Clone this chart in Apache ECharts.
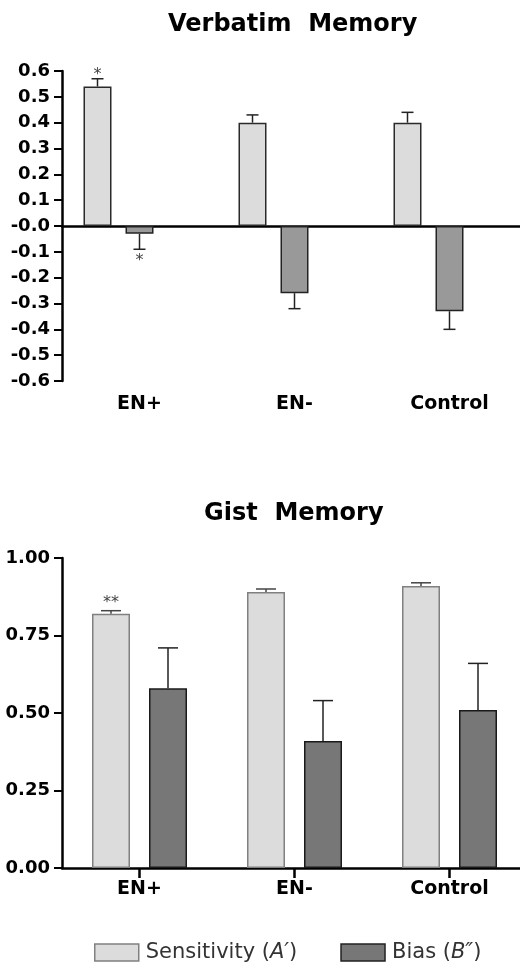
<!DOCTYPE html>
<html>
<head>
<meta charset="utf-8">
<script src="https://cdn.jsdelivr.net/npm/echarts@6/dist/echarts.min.js"></script>
<style>
  html, body { margin: 0; padding: 0; background: #fff; }
  #chart { width: 520px; height: 972px; }
</style>
</head>
<body>
<div id="chart"></div>
<script>
const categories = ['EN+', 'EN-', 'Control'];

// Verbatim memory (top panel)
const verbSens = [0.54, 0.40, 0.40];
const verbSensErr = [0.03, 0.03, 0.04];
const verbBias = [-0.03, -0.26, -0.33];
const verbBiasErr = [0.06, 0.06, 0.07];
const verbSensStars = ['*', '', ''];
const verbBiasStars = ['*', '', ''];

// Gist memory (bottom panel)
const gistSens = [0.82, 0.89, 0.91];
const gistSensErr = [0.01, 0.01, 0.01];
const gistBias = [0.58, 0.41, 0.51];
const gistBiasErr = [0.13, 0.13, 0.15];
const gistSensStars = ['**', '', ''];

const titles = ['Verbatim  Memory', 'Gist  Memory'];
const legendNames = ['Sensitivity', 'Bias'];

const FONT = 'DejaVu Sans';

// error bar + significance star, drawn from the data through the axes
function errorBars(vals, errs, stars, offset, capHalf, starDy, color) {
    return function (params, api) {
        const i = params.dataIndex;
        const v = vals[i];
        const dir = v < 0 ? -1 : 1;
        const end = v + dir * errs[i];
        const p0 = api.coord([i, v]);
        const p1 = api.coord([i, end]);
        const x = p0[0] + offset;
        const children = [
            { type: 'line', shape: { x1: x, y1: p0[1], x2: x, y2: p1[1] },
              style: { stroke: color, lineWidth: 1.5 } },
            { type: 'line', shape: { x1: x - capHalf, y1: p1[1], x2: x + capHalf, y2: p1[1] },
              style: { stroke: color, lineWidth: 1.5 } }
        ];
        if (stars && stars[i]) {
            children.push({
                type: 'text',
                style: {
                    text: stars[i], x: x, y: p1[1] + starDy * dir,
                    fill: '#444', font: '16px ' + FONT,
                    align: 'center', verticalAlign: 'middle'
                }
            });
        }
        return { type: 'group', children: children };
    };
}

const chart = echarts.init(document.getElementById('chart'));

const yLabelStyle = { color: '#000', fontFamily: FONT, fontWeight: 'bold', fontSize: 18, margin: 12 };
const xLabelStyle = { color: '#000', fontFamily: FONT, fontWeight: 'bold', fontSize: 19 };

chart.setOption({
    backgroundColor: '#fff',
    animation: false,
    title: [
        { text: titles[0], left: 163, top: 8,
          textStyle: { fontFamily: FONT, fontWeight: 'bold', fontSize: 24, color: '#000' } },
        { text: titles[1], left: 199, top: 497,
          textStyle: { fontFamily: FONT, fontWeight: 'bold', fontSize: 24, color: '#000' } }
    ],
    legend: {
        left: 89,
        top: 937,
        itemWidth: 44,
        itemHeight: 17,
        itemGap: 43,
        icon: 'rect',
        data: [
            { name: legendNames[0], itemStyle: { color: '#dcdcdc', borderColor: '#808080', borderWidth: 1.5 } },
            { name: legendNames[1], itemStyle: { color: '#777777', borderColor: '#222', borderWidth: 1.5 } }
        ],
        formatter: function (name) {
            return name === 'Bias' ? 'Bias ({i|B″})' : 'Sensitivity ({i|A′})';
        },
        textStyle: {
            fontFamily: FONT, fontSize: 21, color: '#333', padding: [0, 0, 0, 2],
            rich: { i: { fontFamily: FONT, fontSize: 21, fontStyle: 'italic', color: '#333' } }
        }
    },
    grid: [
        { left: 62, top: 71, width: 465, height: 310, outerBoundsMode: 'none' },
        { left: 62, top: 558, width: 465, height: 310, outerBoundsMode: 'none' }
    ],
    xAxis: [
        {   // zero line of the top panel
            type: 'category', gridIndex: 0, data: categories, position: 'top',
            axisLine: { onZero: true, lineStyle: { color: '#000', width: 2.5 } },
            axisTick: { show: false }, axisLabel: { show: false }
        },
        {   // category labels of the top panel
            type: 'category', gridIndex: 0, data: categories, position: 'bottom',
            axisLine: { show: false, onZero: false }, axisTick: { show: false },
            axisLabel: Object.assign({ margin: 14 }, xLabelStyle)
        },
        {
            type: 'category', gridIndex: 1, data: categories, position: 'bottom',
            axisLine: { lineStyle: { color: '#000', width: 2.5 } },
            axisTick: { show: true, alignWithLabel: true, length: 10, lineStyle: { color: '#000', width: 2.5 } },
            axisLabel: Object.assign({ margin: 12 }, xLabelStyle)
        }
    ],
    yAxis: [
        {
            type: 'value', gridIndex: 0, min: -0.6, max: 0.6, interval: 0.1,
            splitLine: { show: false },
            axisLine: { show: true, lineStyle: { color: '#000', width: 2.5 } },
            axisTick: { show: true, length: 8, lineStyle: { color: '#000', width: 2 } },
            axisLabel: Object.assign({
                formatter: v => (v <= 0.0001 ? '-' : '') + Math.abs(v).toFixed(1)
            }, yLabelStyle)
        },
        {
            type: 'value', gridIndex: 1, min: 0, max: 1, interval: 0.25,
            splitLine: { show: false },
            axisLine: { show: true, lineStyle: { color: '#000', width: 2.5 } },
            axisTick: { show: true, length: 8, lineStyle: { color: '#000', width: 2 } },
            axisLabel: Object.assign({ formatter: v => v.toFixed(2) }, yLabelStyle)
        }
    ],
    series: [
        {
            name: legendNames[0], type: 'bar', xAxisIndex: 0, yAxisIndex: 0,
            data: verbSens, barWidth: 28, barGap: '50%',
            itemStyle: { color: '#dcdcdc', borderColor: '#2a2a2a', borderWidth: 1.5 }
        },
        {
            name: legendNames[1], type: 'bar', xAxisIndex: 0, yAxisIndex: 0,
            data: verbBias, barWidth: 28, barGap: '50%',
            itemStyle: { color: '#999999', borderColor: '#222', borderWidth: 1.5 }
        },
        {   // empty slot: the top panel's bar pair sits left of the label
            name: 'spacer', type: 'bar', xAxisIndex: 0, yAxisIndex: 0,
            data: [], barWidth: 28, barGap: '50%'
        },
        {
            type: 'custom', xAxisIndex: 0, yAxisIndex: 0, z: 5,
            data: verbSens.map((v, i) => [i, v]),
            renderItem: errorBars(verbSens, verbSensErr, verbSensStars, -42, 6, -3.5, '#222')
        },
        {
            type: 'custom', xAxisIndex: 0, yAxisIndex: 0, z: 5,
            data: verbBias.map((v, i) => [i, v]),
            renderItem: errorBars(verbBias, verbBiasErr, verbBiasStars, 0, 6, -12, '#222')
        },
        {
            name: legendNames[0], type: 'bar', xAxisIndex: 2, yAxisIndex: 1,
            data: gistSens, barWidth: 38, barGap: '50%',
            itemStyle: { color: '#dcdcdc', borderColor: '#808080', borderWidth: 1.5 }
        },
        {
            name: legendNames[1], type: 'bar', xAxisIndex: 2, yAxisIndex: 1,
            data: gistBias, barWidth: 38, barGap: '50%',
            itemStyle: { color: '#777777', borderColor: '#1a1a1a', borderWidth: 1.5 }
        },
        {
            type: 'custom', xAxisIndex: 2, yAxisIndex: 1, z: 5,
            data: gistSens.map((v, i) => [i, v]),
            renderItem: errorBars(gistSens, gistSensErr, gistSensStars, -28.5, 10, -7.5, '#444')
        },
        {
            type: 'custom', xAxisIndex: 2, yAxisIndex: 1, z: 5,
            data: gistBias.map((v, i) => [i, v]),
            renderItem: errorBars(gistBias, gistBiasErr, null, 28.5, 10, 0, '#222')
        }
    ]
});
</script>
</body>
</html>
